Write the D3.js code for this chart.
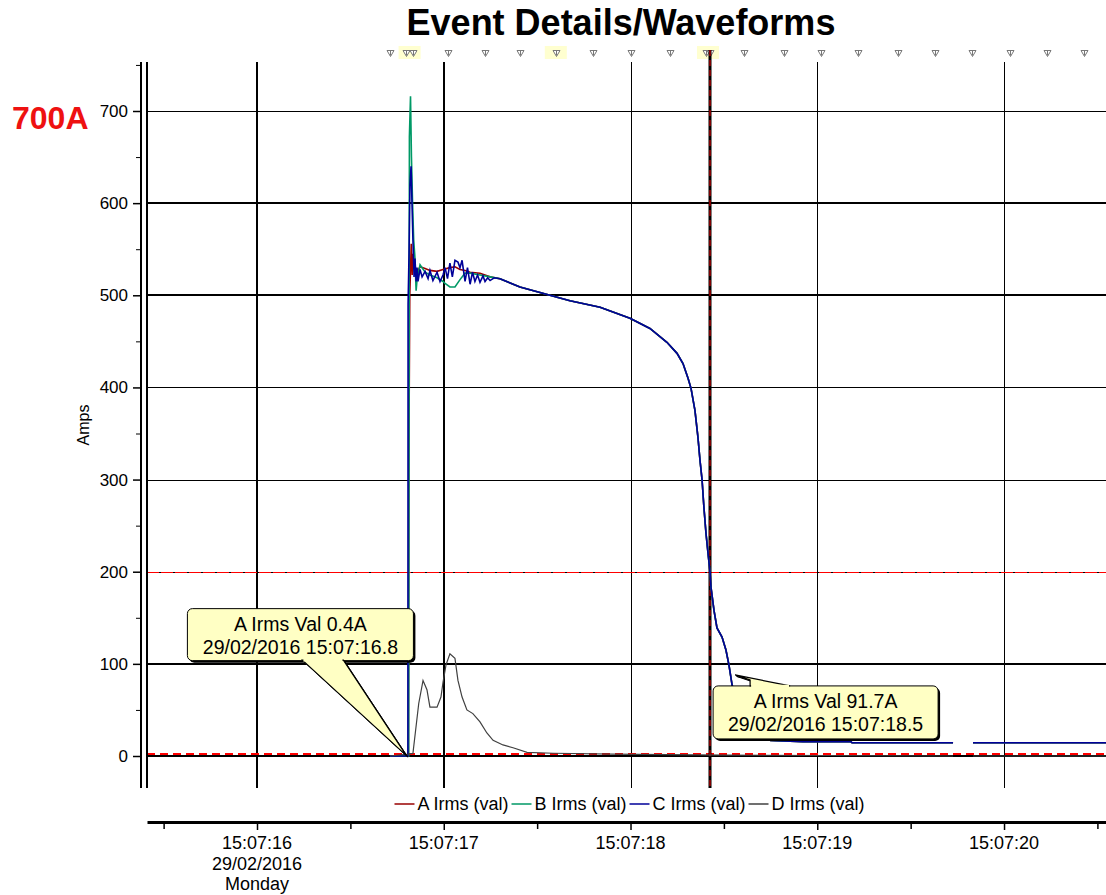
<!DOCTYPE html>
<html>
<head>
<meta charset="utf-8">
<script src="https://cdn.jsdelivr.net/npm/d3@7"></script>
<style>
  body { margin: 0; background: #fff; }
  text { font-family: "Liberation Sans", Arial, sans-serif; }
</style>
</head>
<body>
<script>
// data: seconds after 15:07:00 on 29/02/2016, value in Amps
var seriesNames = ["A Irms (val)", "B Irms (val)", "C Irms (val)", "D Irms (val)"];
var seriesColors = ["#990000", "#009966", "#000099", "#404040"];

var spikeA = [[16.712, 0], [16.811, 0], [16.813, 320], [16.818, 500], [16.826, 556], [16.831, 522],
  [16.836, 545], [16.841, 530], [16.857, 525], [16.873, 531], [16.900, 529], [16.926, 527],
  [16.964, 526], [16.996, 528], [17.033, 530], [17.060, 531], [17.087, 528], [17.114, 527],
  [17.141, 525], [17.194, 524], [17.248, 520]];
var spikeB = [[16.712, 0], [16.812, 0], [16.816, 672], [16.822, 716], [16.827, 650], [16.833, 600],
  [16.839, 560], [16.846, 540], [16.852, 505], [16.857, 517], [16.873, 533], [16.900, 525],
  [16.926, 522], [16.964, 519], [16.996, 515], [17.007, 513], [17.033, 509], [17.060, 509],
  [17.087, 517], [17.114, 524], [17.141, 524], [17.194, 522], [17.248, 520]];
var spikeC = [[16.712, 0], [16.808, 0], [16.809, 490], [16.814, 545], [16.819, 620], [16.825, 640],
  [16.830, 600], [16.835, 560], [16.841, 520], [16.846, 540], [16.852, 515], [16.857, 530],
  [16.862, 515], [16.873, 528], [16.884, 520], [16.900, 526], [16.916, 518], [16.926, 527],
  [16.942, 516], [16.964, 525], [16.980, 515], [16.996, 522], [17.007, 530], [17.020, 518],
  [17.033, 535], [17.046, 520], [17.060, 538], [17.076, 536], [17.087, 530], [17.098, 538],
  [17.114, 515], [17.127, 530], [17.141, 512], [17.154, 525], [17.167, 515], [17.181, 522],
  [17.194, 514], [17.210, 521], [17.221, 515], [17.235, 519], [17.248, 516], [17.270, 519]];
// common decay of A/B/C (null = missing data)
var decayTail = [[17.301, 518], [17.408, 509], [17.515, 503], [17.622, 497], [17.676, 494],
  [17.837, 487], [17.997, 475], [18.104, 464], [18.195, 449], [18.249, 437], [18.281, 426],
  [18.308, 410], [18.324, 399], [18.345, 375], [18.361, 346], [18.372, 321], [18.383, 300],
  [18.393, 270], [18.404, 242], [18.415, 220], [18.426, 199], [18.431, 183], [18.447, 158],
  [18.463, 139], [18.490, 129], [18.511, 115], [18.527, 99], [18.544, 77], [18.586, 40],
  [18.650, 22], [18.750, 17], [18.924, 15.6], [19.180, 15.6], [19.186, 14.4], [19.727, 14.4],
  [19.760, null], [19.834, 14.4], [20.546, 14.4]];
var seriesD = [[16.712, 0], [16.809, 2], [16.835, 3], [16.866, 57], [16.889, 82], [16.910, 72],
  [16.926, 53], [16.964, 53], [16.985, 64], [16.996, 80], [17.012, 99], [17.033, 111],
  [17.060, 106], [17.076, 82], [17.098, 64], [17.124, 50], [17.156, 46], [17.194, 37],
  [17.231, 25], [17.264, 17], [17.317, 12], [17.371, 9], [17.446, 4], [17.585, 3], [17.900, 2],
  [18.500, 1], [19.727, 0], [19.760, null], [19.834, 0], [20.546, 0]];

var yTicks = [0, 100, 200, 300, 400, 500, 600, 700];
var yMinorTicks = [50, 150, 250, 350, 450, 550, 650, 750];
var thickRows = [0, 100, 500, 600];
var secondTicks = [16, 17, 18, 19, 20];
var halfTicks = [15.5, 16.5, 17.5, 18.5, 19.5, 20.5];
var thickCols = [16, 17];
var markerTimes = [16.712, 16.799, 16.835, 17.021, 17.22, 17.41, 17.60, 17.80, 18.00, 18.21,
  18.405, 18.425, 18.61, 18.82, 19.02, 19.22, 19.43, 19.63, 19.83, 20.03, 20.23, 20.43];
var markerHighlights = [16.817, 17.60, 18.415];
var thresholdHigh = 200, thresholdLow = 2.5;
var cursorTime = 18.425;
var callouts = [
  {t: 16.80, v: 0.4, lines: ["A Irms Val 0.4A", "29/02/2016 15:07:16.8"]},
  {t: 18.56, v: 88, lines: ["A Irms Val 91.7A", "29/02/2016 15:07:18.5"]}
];

var svgWidth = 1106, svgHeight = 895;
var plot = {left: 147, right: 1106, top: 62, bottom: 788};

var base = new Date(2016, 1, 29, 15, 7, 0);
function at(s) { return new Date(base.getTime() + s * 1000); }

var svg = d3.select("body").append("svg")
  .attr("width", svgWidth).attr("height", svgHeight);

var x = d3.scaleTime().domain([at(15.411), at(20.546)]).range([plot.left, plot.right]);
var y = d3.scaleLinear().domain([0, 700]).range([756, 111]);

// title + labels
svg.append("text").attr("x", 621).attr("y", 35).attr("text-anchor", "middle")
  .attr("font-size", 36).attr("font-weight", "bold").text("Event Details/Waveforms");
svg.append("text").attr("x", 12).attr("y", 129).attr("fill", "#ee1111")
  .attr("font-size", 32).attr("font-weight", "bold").text("700A");
svg.append("text").attr("transform", "translate(89,425) rotate(-90)")
  .attr("text-anchor", "middle").attr("font-size", 16).text("Amps");

// grid
var grid = svg.append("g").attr("shape-rendering", "crispEdges");
grid.selectAll(".hrow").data(yTicks.filter(d => d !== thresholdHigh)).enter().append("line")
  .attr("x1", plot.left).attr("x2", plot.right)
  .attr("y1", d => Math.round(y(d))).attr("y2", d => Math.round(y(d)))
  .attr("stroke", "#000").attr("stroke-width", d => thickRows.includes(d) ? 2 : 1);
grid.selectAll(".vcol").data(secondTicks).enter().append("line")
  .attr("x1", d => Math.round(x(at(d)))).attr("x2", d => Math.round(x(at(d))))
  .attr("y1", plot.top).attr("y2", plot.bottom)
  .attr("stroke", "#000").attr("stroke-width", d => thickCols.includes(d) ? 2 : 1);

// thresholds
grid.append("line").attr("x1", plot.left).attr("x2", plot.right)
  .attr("y1", Math.round(y(thresholdHigh))).attr("y2", Math.round(y(thresholdHigh)))
  .attr("stroke", "#000").attr("stroke-width", 1);
grid.append("line").attr("x1", plot.left).attr("x2", plot.right)
  .attr("y1", Math.round(y(thresholdHigh))).attr("y2", Math.round(y(thresholdHigh)))
  .attr("stroke", "#ff0000").attr("stroke-width", 1).attr("stroke-dasharray", "12,2");
grid.append("line").attr("x1", plot.left).attr("x2", plot.right)
  .attr("y1", Math.round(y(thresholdLow))).attr("y2", Math.round(y(thresholdLow)))
  .attr("stroke", "#ff0000").attr("stroke-width", 1.5).attr("stroke-dasharray", "8,5");

// event markers along the top
var markers = svg.append("g");
markers.selectAll("rect").data(markerHighlights).enter().append("rect")
  .attr("x", d => x(at(d)) - 11).attr("y", 46).attr("width", 22).attr("height", 13)
  .attr("fill", "#ffffd0");
markers.selectAll("path").data(markerTimes).enter().append("path")
  .attr("transform", d => `translate(${Math.round(x(at(d))) + 0.5},50.5)`)
  .attr("d", "M-3.5,0H3.5L0,6ZM0,0V5")
  .attr("fill", "#fff").attr("stroke", "#777").attr("stroke-width", 1);

// cursor
var cx = Math.round(x(at(cursorTime)));
svg.append("line").attr("x1", cx).attr("x2", cx).attr("y1", 50).attr("y2", plot.bottom)
  .attr("stroke", "#000").attr("stroke-width", 3);
svg.append("line").attr("x1", cx).attr("x2", cx).attr("y1", 50).attr("y2", plot.bottom)
  .attr("stroke", "#ff0000").attr("stroke-width", 1).attr("stroke-dasharray", "6,4");

// series
var seriesData = [spikeA.concat(decayTail), spikeB.concat(decayTail), spikeC.concat(decayTail), seriesD];
var line = d3.line()
  .defined(d => d[1] !== null)
  .x(d => x(at(d[0])))
  .y(d => y(d[1]));
svg.append("g").selectAll("path").data(seriesData).enter().append("path")
  .attr("d", line)
  .attr("fill", "none")
  .attr("stroke", (d, i) => seriesColors[i])
  .attr("stroke-width", (d, i) => i === 3 ? 1.2 : 1.6)
  .attr("stroke-linejoin", "miter");

// callouts
function drawCallout(c, box, wedge) {
  var g = svg.append("g");
  var tx = x(at(c.t)), ty = y(c.v);
  var pts = wedge.map(p => [tx + p[0], ty + p[1]]);
  var bx = tx + box[0], by = ty + box[1];
  g.append("rect").attr("x", bx + 2).attr("y", by + 2).attr("width", box[2]).attr("height", box[3])
    .attr("rx", 5).attr("fill", "#000");
  g.append("polygon").attr("points", pts.map(p => [p[0] + 1.5, p[1] + 1.5].join(",")).join(" "))
    .attr("fill", "#000").attr("stroke", "#000").attr("stroke-width", 1);
  g.append("rect").attr("x", bx).attr("y", by).attr("width", box[2]).attr("height", box[3])
    .attr("rx", 5).attr("fill", "#ffffc4").attr("stroke", "#000").attr("stroke-width", 1);
  g.append("polygon").attr("points", pts.map(p => p.join(",")).join(" "))
    .attr("fill", "#ffffc4").attr("stroke", "#000").attr("stroke-width", 1.2);
  // hide wedge base edge inside the box
  g.append("line").attr("x1", pts[0][0] + 1).attr("x2", pts[pts.length - 1][0] - 1)
    .attr("y1", pts[0][1]).attr("y2", pts[0][1])
    .attr("stroke", "#ffffc4").attr("stroke-width", 2.5);
  c.lines.forEach(function(s, i) {
    g.append("text").attr("x", bx + box[2] / 2).attr("y", by + 22 + i * 23)
      .attr("text-anchor", "middle").attr("font-size", 19.5).text(s);
  });
}
drawCallout(callouts[0], [-219, -147, 226, 52], [[-104, -95.5], [0, 0], [-63, -95.5]]);
drawCallout(callouts[1], [-22, 11, 225, 53], [[15, 11], [15, 5], [0, 0], [55, 11]]);

// y axis
var yAxisG = svg.append("g").attr("transform", "translate(141,0)")
  .call(d3.axisLeft(y).tickValues(yTicks).tickSize(8).tickPadding(5));
yAxisG.select(".domain").remove();
yAxisG.selectAll("text").attr("font-size", 17).attr("font-family", "Liberation Sans, Arial, sans-serif").attr("fill", "#000");
yAxisG.selectAll("line").attr("stroke-width", 1.5);
var yMinor = svg.append("g").attr("transform", "translate(141,0)")
  .call(d3.axisLeft(y).tickValues(yMinorTicks.filter(d => y(d) > plot.top)).tickSize(5).tickFormat(""));
yMinor.select(".domain").remove();
[141, 147].forEach(function(px) {
  svg.append("line").attr("x1", px).attr("x2", px).attr("y1", plot.top).attr("y2", plot.bottom)
    .attr("stroke", "#000").attr("stroke-width", 2);
});

// legend
var legend = svg.append("g").attr("transform", "translate(0,804)");
var lx = 0, items = [];
seriesNames.forEach(function(name, i) {
  var it = legend.append("g");
  it.append("line").attr("x1", 0).attr("x2", 20).attr("y1", 0).attr("y2", 0)
    .attr("stroke", seriesColors[i]).attr("stroke-width", 1.5);
  var t = it.append("text").attr("x", 23).attr("y", 6).attr("font-size", 18).text(name);
  items.push({g: it, w: 23 + t.node().getComputedTextLength() + 3});
});
var totalW = d3.sum(items, d => d.w);
lx = 631 - totalW / 2;
items.forEach(function(d) { d.g.attr("transform", `translate(${lx},0)`); lx += d.w; });

// x axis
var fmt = d3.timeFormat("%H:%M:%S");
var xAxisG = svg.append("g").attr("transform", "translate(0,822)")
  .call(d3.axisBottom(x).tickValues(secondTicks.map(at)).tickSize(8).tickSizeOuter(0).tickFormat(""));
xAxisG.select(".domain").attr("stroke-width", 3);
xAxisG.selectAll("line").attr("stroke-width", 1.5);
var xMinor = svg.append("g").attr("transform", "translate(0,822)")
  .call(d3.axisBottom(x).tickValues(halfTicks.map(at)).tickSize(7).tickSizeOuter(0).tickFormat(""));
xMinor.select(".domain").remove();
xMinor.selectAll("line").attr("stroke-width", 1.5);
secondTicks.forEach(function(s, i) {
  var lines = [fmt(at(s))];
  if (i === 0) lines.push(d3.timeFormat("%d/%m/%Y")(at(s)), d3.timeFormat("%A")(at(s)));
  lines.forEach(function(l, j) {
    svg.append("text").attr("x", x(at(s))).attr("y", 849 + j * 20.5)
      .attr("text-anchor", "middle").attr("font-size", 18).text(l);
  });
});
</script>
</body>
</html>
